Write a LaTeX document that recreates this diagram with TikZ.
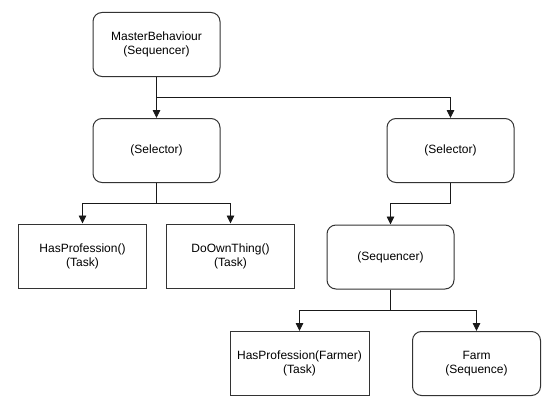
\documentclass[tikz,border=0pt]{standalone}
\usepackage{fontspec}
\setmainfont{Liberation Sans}
\usetikzlibrary{arrows.meta}
\begin{document}
\begin{tikzpicture}[x=1pt,y=-1pt,
  box/.style={draw=black!80, line width=1pt, minimum width=127pt, minimum height=64pt,
    align=center, inner sep=0pt, font=\fontsize{12pt}{14pt}\selectfont},
  rbox/.style={box, rounded corners=9pt},
  link/.style={draw=black!90, line width=0.9pt, -{Triangle[length=8pt,width=7.5pt]}}]
\useasboundingbox (0,0) rectangle (554,412);
\node[rbox] (master) at (156.5,44.5) {MasterBehaviour\\(Sequencer)};
\node[rbox] (selL) at (156.5,150.5) {(Selector)};
\node[rbox] (selR) at (450.5,150.5) {(Selector)};
\node[box, minimum width=128pt] (hasP) at (82.5,256) {HasProfession()\\(Task)};
\node[box, minimum width=128pt] (doOwn) at (230.5,256) {DoOwnThing()\\(Task)};
\node[rbox] (seq) at (390.5,257) {(Sequencer)};
\node[box, minimum width=139pt] (hasF) at (299.5,363.5) {HasProfession(Farmer)\\(Task)};
\node[rbox, minimum width=128pt] (farm) at (476.5,363.5) {Farm\\(Sequence)};
\draw[link] (master.south) -- (selL.north);
\draw[link] (master.south) |- (450.5,97.5) -- (selR.north);
\draw[link] (selL.south) |- (82.5,203.5) -- (hasP.north);
\draw[link] (selL.south) |- (230.5,203.5) -- (doOwn.north);
\draw[link] (selR.south) |- (390.5,203.5) -- (seq.north);
\draw[link] (seq.south) |- (299.5,310.5) -- (hasF.north);
\draw[link] (seq.south) |- (476.5,310.5) -- (farm.north);
\end{tikzpicture}
\end{document}
